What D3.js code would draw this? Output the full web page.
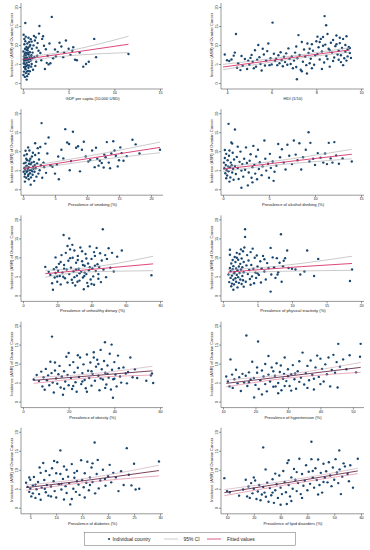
<!DOCTYPE html>
<html>
<head>
<meta charset="utf-8">
<script src="https://cdn.jsdelivr.net/npm/d3@7"></script>
<style>
body { margin: 0; background: #fff; }
svg text { font-family: "Liberation Sans", Arial, sans-serif; fill: #222; }
</style>
</head>
<body>
<div id="chart"></div>
<script>
//---------------- data -----------------------------------------------
var yTitle = "Incidence (ASR) of Ovarian Cancer";
var yTicks = [0, 5, 10, 15, 20];

var xTitles = ["GDP per capita (10,000 USD)", "HDI (1/10)", "Prevalence of smoking (%)",
	"Prevalence of alcohol drinking (%)", "Prevalence of unhealthy dietary (%)",
	"Prevalence of physical inactivity (%)", "Prevalence of obesity (%)",
	"Prevalence of hypertension (%)", "Prevalence of diabetes (%)", "Prevalence of lipid disorders (%)"];

var xTickSets = [[0, 5, 10, 15], [4, 6, 8, 10], [0, 5, 10, 15, 20], [0, 5, 10, 15], [0, 20, 40, 60, 80],
	[0, 5, 10, 15, 20], [0, 20, 40, 60], [10, 20, 30, 40, 50], [5, 10, 15, 20, 25, 30], [10, 20, 30, 40, 50, 60]];

var xDomains = [[0, 15], [3.82, 10], [0, 21.4], [0, 15], [0, 80], [0, 20], [0, 60], [10, 52.5], [3.6, 30], [8.5, 60]];

var gdpPts = [[0.05,2.1],[0.1,3.0],[0.12,4.2],[0.08,5.1],[0.15,5.8],[0.2,6.4],[0.1,7.0],[0.18,7.6],[0.05,8.3],[0.22,9.0],[0.3,2.6],[0.28,3.6],[0.35,4.4],[0.25,4.9],[0.4,5.3],[0.33,6.0],[0.45,6.6],[0.3,7.2],[0.4,7.9],[0.5,8.6],[0.38,9.5],[0.15,10.2],[0.25,11.0],[0.07,12.7],[0.25,15.8],[0.55,3.2],[0.6,4.0],[0.5,4.7],[0.65,5.5],[0.58,6.2],[0.7,6.9],[0.62,7.5],[0.75,8.1],[0.55,9.2],[0.8,10.0],[0.68,10.8],[0.85,11.5],[0.9,4.3],[0.95,5.0],[0.85,5.9],[1.0,6.5],[0.92,7.3],[1.05,8.0],[0.98,9.0],[0.4,0.9],[0.2,1.6],[0.45,1.8],[0.6,2.4],[0.75,3.1],[0.12,5.5],[0.18,6.9],[0.27,8.0],[0.35,8.8],[0.48,10.4],[0.6,11.9],[0.3,12.2],[0.15,11.6],[0.42,3.0],[0.52,5.9],[0.66,4.6],[0.78,6.3],[0.88,7.0],[0.2,4.0],[0.08,6.2],[0.37,6.7],[0.47,7.6],[0.57,8.0],[0.72,9.6],[0.95,10.9],[1.1,3.5],
	[1.2,12.4],[1.4,12.0],[1.3,11.2],[1.6,10.5],[1.8,15.0],[1.5,9.3],[1.7,8.5],[1.9,7.9],[1.25,6.8],[1.45,5.6],[1.35,4.5],[2.1,11.6],[2.2,12.3],[2.3,9.8],[2.5,8.9],[2.0,6.0],[2.4,3.7],[2.7,7.2],[2.9,10.4],[3.15,17.4],[2.6,5.3],[1.15,9.9],[1.55,7.2],[2.8,4.9],[1.75,13.0],
	[3.3,6.5],[3.5,8.8],[3.8,8.2],[4.0,10.6],[4.2,9.6],[4.5,8.0],[4.7,11.2],[5.0,9.0],[5.2,7.4],[5.4,8.5],[5.7,6.1],[5.9,6.0],[6.2,8.0],[6.6,4.3],[6.9,5.0],[7.2,5.6],[7.8,11.6],[8.0,6.8],[11.55,7.65],[3.6,7.0],[4.4,6.8],[5.5,9.4],[3.0,5.2]];

var hdiPts = [[3.9,7.5],[4.0,6.0],[4.1,5.8],[4.2,6.2],[4.3,7.2],[4.35,8.0],[4.4,12.9],[4.45,4.0],[4.6,3.4],[4.5,5.2],[4.7,4.5],[4.8,6.3],[4.9,3.7],[4.65,7.1],[4.95,5.9],
	[5.0,4.8],[5.1,7.4],[5.15,5.6],[5.2,3.9],[5.3,4.3],[5.35,6.1],[5.4,10.0],[5.45,6.8],[5.5,5.0],[5.6,9.0],[5.65,7.5],[5.7,4.6],[5.75,5.9],[5.8,8.4],[5.85,10.4],[5.9,4.7],[5.95,6.5],[5.25,8.6],[5.55,3.3],[5.05,6.6],
	[6.0,4.9],[6.04,15.9],[6.1,7.7],[6.15,5.8],[6.2,6.4],[6.25,4.7],[6.3,7.3],[6.35,5.2],[6.4,8.1],[6.45,6.0],[6.5,4.4],[6.55,6.9],[6.6,5.5],[6.65,7.8],[6.7,4.8],[6.75,9.1],[6.8,6.3],[6.85,5.0],[6.9,7.0],[6.95,3.9],
	[7.0,5.9],[7.05,8.0],[7.1,4.2],[7.13,1.0],[7.15,6.5],[7.2,12.6],[7.25,7.4],[7.3,3.5],[7.35,10.8],[7.4,5.6],[7.45,8.8],[7.5,6.9],[7.55,4.7],[7.6,10.4],[7.65,7.9],[7.7,5.2],[7.75,6.4],[7.8,10.2],[7.85,8.5],[7.9,4.8],[7.95,7.3],[7.35,3.1],[7.58,2.5],[7.8,3.9],[7.1,9.6],[7.7,9.0],
	[8.0,11.0],[8.05,7.6],[8.1,9.4],[8.15,6.2],[8.2,11.6],[8.25,8.3],[8.3,12.1],[8.35,5.4],[8.37,17.6],[8.4,10.1],[8.44,15.2],[8.45,7.1],[8.5,12.9],[8.55,9.0],[8.6,4.3],[8.65,10.6],[8.7,8.0],[8.75,11.3],[8.8,6.7],[8.85,9.7],[8.9,12.5],[8.95,7.5],[8.15,10.8],[8.25,3.7],[8.5,6.3],[8.6,8.6],[8.75,5.8],[8.05,12.2],[8.9,10.2],[8.3,9.8],
	[9.0,8.5],[9.05,10.5],[9.1,7.3],[9.15,9.2],[9.2,11.6],[9.25,6.5],[9.3,8.2],[9.35,12.3],[9.4,7.0],[9.45,9.5],[9.5,7.9],[9.55,6.6],[9.1,5.5],[9.2,4.7],[9.3,10.0],[9.4,8.8],[9.0,6.1],[9.35,5.9],[9.5,9.2],[9.05,11.9]];

var smokePts = [[0.2,5.5],[0.3,4.0],[0.4,7.0],[0.5,3.0],[0.3,2.0],[0.6,6.2],[0.7,4.8],[0.5,8.0],[0.8,3.5],[0.9,5.8],[1.0,7.5],[0.6,9.2],[1.1,4.2],[1.2,6.6],[0.9,2.6],[1.3,5.1],[1.4,8.6],[1.0,10.2],[1.5,3.8],[1.6,6.0],[1.7,7.2],[1.2,1.2],[1.8,4.6],[1.9,9.0],[2.0,5.5],[2.1,3.3],[2.2,6.8],[2.3,10.8],[2.4,4.1],[2.5,7.8],[2.6,5.0],[2.7,11.1],[2.9,17.4],[2.8,6.3],[3.0,3.0],[0.15,6.8],[0.25,3.3],[0.35,5.0],[0.45,6.0],[0.55,4.5],[0.65,7.6],[0.75,5.3],[0.85,3.9],[0.95,6.7],[1.05,5.0],[1.15,8.0],[1.25,3.1],[1.35,7.0],[1.45,4.7],[1.55,9.6],[1.65,5.4],[1.75,2.2],[1.85,6.4],[0.1,4.6],[0.2,8.9],[0.4,10.1],[0.8,11.0],[1.9,12.1],[2.45,9.5],
	[3.2,7.0],[3.5,12.0],[3.8,9.4],[4.0,13.6],[3.3,5.8],[3.6,4.3],[4.3,6.3],[4.6,5.9],[5.0,4.1],[5.3,6.5],[5.6,2.6],[5.5,8.6],[6.0,10.4],[6.3,8.1],[6.6,15.8],[6.9,12.3],[7.2,11.9],[7.5,7.4],[7.8,15.1],[7.3,5.0],[8.3,10.9],[8.6,11.3],[8.9,4.7],[9.2,10.4],[9.8,8.6],[10.2,7.3],[10.5,7.7],[10.8,10.2],[11.2,5.8],[11.6,8.0],[11.8,6.2],[12.0,7.5],[12.3,6.9],[12.6,5.7],[12.9,8.4],[13.1,12.4],[13.4,7.0],[13.6,5.5],[13.8,9.4],[14.1,12.6],[14.3,10.2],[14.5,8.8],[14.8,6.0],[15.0,7.6],[15.2,11.0],[15.4,9.5],[15.7,7.5],[16.2,8.7],[17.1,13.0],[17.6,11.8],[18.2,9.4],[21.4,10.4],[11.4,10.9],[12.7,9.1],[9.5,12.5]];

var alcoholPts = [[0.1,7.0],[0.15,5.5],[0.2,8.2],[0.25,4.2],[0.3,6.4],[0.35,9.3],[0.4,5.0],[0.45,3.6],[0.5,7.6],[0.55,6.0],[0.6,17.2],[0.6,4.7],[0.65,8.8],[0.7,10.2],[0.75,5.8],[0.8,3.1],[0.85,7.0],[0.9,12.3],[0.95,6.3],[1.0,4.4],[1.05,9.6],[1.1,5.3],[1.15,2.5],[1.2,7.8],[1.3,15.7],[1.3,6.1],[1.4,4.0],[1.5,8.5],[1.6,5.6],[1.7,2.7],[1.8,7.2],[1.9,9.9],[2.0,4.9],[2.1,6.6],[2.2,3.3],[2.3,8.0],[2.4,5.1],[2.5,11.0],[2.6,6.9],[2.7,1.0],[2.8,4.4],[2.9,7.5],[3.0,9.2],[3.1,3.0],[3.2,5.8],[3.3,11.4],[3.4,6.4],[3.5,4.1],[3.6,8.6],[3.7,2.6],[3.8,10.4],[3.9,5.3],[4.0,7.1],[4.2,3.7],[4.3,6.0],[4.5,12.8],[4.6,8.0],[4.7,4.9],[4.9,6.7],[5.0,3.0],[5.1,9.3],[5.2,5.6],[5.4,7.3],[5.5,2.2],[5.6,4.6],[5.8,6.2],[6.0,11.9],[6.2,8.4],[6.4,10.5],[6.6,7.0],[6.8,5.2],[7.0,11.7],[7.2,8.8],[7.5,6.6],[7.7,12.8],[7.9,9.1],[8.1,7.6],[8.3,12.1],[8.5,5.2],[8.7,8.4],[9.0,10.4],[9.3,15.0],[9.4,7.3],[9.5,12.2],[9.8,8.0],[10.0,6.4],[10.3,9.5],[10.6,8.3],[10.9,7.0],[11.1,9.4],[11.3,6.6],[11.5,12.2],[11.7,8.1],[11.9,7.0],[12.1,12.4],[12.3,8.9],[12.6,6.7],[13.0,8.1],[14.0,7.3],[0.35,2.9],[0.7,2.0],[1.6,11.2],[0.2,10.3],[2.0,0.4],[1.0,12.0],[3.2,1.8]];

var dietPts = [[13,7.5],[15,6.2],[16,5.4],[17,3.2],[17.5,1.5],[18,6.9],[18.5,4.7],[19,5.9],[19.5,7.4],[20,3.6],[20.5,6.5],[21,8.3],[21.5,5.1],[22,2.9],[22.5,10.6],[23,6.0],[23.7,15.9],[24,8.0],[24.5,4.5],[25,11.2],[25.5,6.8],[26,3.4],[26.5,9.1],[27,15.0],[27,5.6],[27.5,12.1],[28,7.3],[28.5,4.1],[29,9.9],[29.5,6.3],[30,11.8],[30.5,2.6],[31,8.6],[31.5,5.2],[32,10.4],[32.5,7.0],[33,3.9],[33.5,12.6],[34,6.2],[34.5,9.0],[35,4.7],[35.5,1.6],[36,7.8],[36.5,10.9],[37,5.6],[37.5,3.3],[38,8.4],[38.5,6.6],[39,12.9],[39.5,4.2],[40,9.6],[40.5,7.1],[41,5.0],[41.5,2.8],[42,10.4],[42.5,6.4],[43,12.5],[43.5,8.2],[44,4.4],[44.5,7.5],[45,11.1],[45.5,3.5],[46.6,17.4],[47,6.8],[48,10.6],[49,9.6],[50,12.4],[51,7.3],[52,11.2],[53,6.3],[55,10.2],[57.7,11.8],[75,5.3],[26,13.0],[28.8,13.3],[32,9.3],[35,8.0],[33,5.8],[30,4.8],[38,2.4],[40,3.0],[24,7.0],[27.5,9.8],[31,6.8],[36,6.0],[42,7.8],[37,9.7],[41.5,11.4],[34.5,11.6],[29,3.3],[22,8.8],[19,10.0],[44,5.6],[46,9.2],[20,5.0],[23.5,4.9],[39,7.4],[35.8,5.1],[31.8,3.6],[48.5,4.8]];

var inactPts = [[0.8,5.5],[0.9,3.5],[1.0,7.2],[1.0,10.7],[1.1,4.6],[1.1,6.4],[1.2,2.4],[1.2,8.4],[1.3,5.2],[1.3,3.1],[1.4,6.9],[1.4,9.3],[1.5,4.1],[1.5,7.7],[1.6,5.8],[1.6,2.9],[1.7,10.1],[1.7,6.2],[1.8,4.5],[1.8,8.8],[1.9,3.6],[1.9,7.1],[2.0,5.4],[2.0,11.2],[2.1,6.6],[2.1,2.1],[2.2,9.4],[2.2,4.8],[2.3,7.6],[2.3,3.3],[2.4,10.9],[2.4,5.9],[2.5,8.3],[2.5,4.2],[2.6,12.1],[2.6,6.8],[2.7,3.0],[2.7,9.7],[2.8,5.1],[2.8,7.4],[2.9,11.6],[2.9,4.0],[3.0,8.8],[3.0,6.1],[3.2,17.4],[3.2,15.4],[3.1,12.6],[3.3,3.6],[3.4,7.9],[3.5,10.6],[3.6,5.6],[3.7,9.2],[3.8,6.7],[3.9,4.3],[4.0,11.4],[4.1,8.0],[4.2,5.0],[4.3,12.3],[4.4,7.0],[4.5,3.2],[4.6,9.9],[4.7,6.0],[4.8,4.6],[4.9,10.5],[5.0,7.6],[5.2,5.4],[5.4,9.0],[5.5,3.4],[5.6,7.1],[5.8,10.4],[6.0,6.3],[6.2,4.2],[6.4,8.5],[6.6,7.2],[6.9,12.5],[6.9,1.0],[7.0,5.5],[7.2,10.0],[7.4,7.4],[7.6,4.6],[7.8,9.8],[8.0,6.1],[8.2,8.6],[8.4,16.1],[8.5,3.6],[8.7,7.7],[9.0,9.8],[9.3,11.8],[9.5,7.2],[10.0,7.0],[10.5,6.8],[11.2,5.5],[11.8,6.3],[12.2,11.8],[13.2,5.1],[13.8,9.6],[18.7,6.8],[18.4,3.8],[1.0,12.0],[1.5,1.5],[2.0,9.9],[3.0,2.3],[4.0,2.8],[5.0,5.8],[6.0,9.5],[7.9,5.5],[8.8,9.1]];

var obesityPts = [[4.7,5.8],[6,7.0],[7,5.4],[8,7.9],[8.5,4.0],[9,6.4],[9.5,3.1],[10,8.6],[10.5,5.6],[11,6.9],[11.5,4.3],[12,10.5],[12.7,17.1],[12.5,7.5],[13,5.0],[13.5,2.4],[14,8.2],[14.5,6.1],[15,4.7],[15.5,7.2],[16,9.4],[16.5,3.7],[17,6.6],[17.5,1.8],[18,8.0],[18.5,5.3],[19,11.8],[19.5,7.0],[20,4.3],[20.5,9.6],[21,6.2],[21.5,3.3],[22,10.4],[22.5,7.7],[23,5.1],[23.5,2.6],[24,8.9],[24.5,6.5],[25,11.6],[25.5,4.6],[26,7.5],[26.5,9.8],[27,5.7],[27.5,3.5],[28,12.4],[28.5,8.1],[29,6.2],[29.5,10.3],[30,4.2],[30.5,7.3],[31,13.0],[31.5,5.5],[32,9.2],[32.5,11.0],[33,6.8],[33.5,3.0],[34,13.6],[34.5,8.5],[35,5.8],[35.5,10.7],[35.9,15.6],[36,7.6],[36.5,4.5],[37,9.5],[37.5,6.3],[38,12.6],[38.5,3.2],[38.8,15.0],[39,8.4],[39.4,1.0],[39.5,5.9],[40,10.4],[40.5,7.1],[41,4.0],[41.6,12.1],[42,8.8],[42.5,6.6],[43,5.0],[44,9.0],[45,7.4],[45.5,4.8],[46,7.8],[47,11.6],[48,6.4],[49,8.5],[50,6.2],[54,5.5],[56,6.9],[57,4.9],[56.5,7.4],[20,12.8],[24,12.2],[28,2.6],[30,8.0],[33,9.9],[26,5.3],[22,4.1],[36,3.6],[18,3.4],[14,10.3],[31,11.6],[34,6.1],[37,7.3],[40,6.0]];

var hyperPts = [[11,6.6],[11.5,5.3],[12,4.0],[12.3,11.1],[12.8,7.1],[13,3.6],[13.5,5.9],[14,8.4],[14.5,4.8],[15,6.4],[15.5,2.8],[16,7.3],[16.5,5.0],[17,6.8],[17.2,17.4],[17.5,4.1],[18,7.7],[18.5,5.8],[19,10.5],[19.6,1.1],[19.5,6.2],[20,4.4],[20.5,7.6],[20.8,15.8],[21,3.3],[21.5,5.6],[22,8.2],[22.5,6.6],[23,4.6],[23.5,2.7],[24,7.1],[24.5,5.3],[25,9.0],[25.5,3.9],[26,6.8],[26.5,10.1],[27,4.9],[27.5,7.8],[28,3.0],[28.5,6.0],[29,11.6],[29.5,5.4],[30,8.5],[30.5,4.1],[31,7.2],[31.5,9.6],[32,5.9],[32.5,3.4],[33,8.0],[33.5,10.6],[34,6.3],[34.5,12.9],[35,4.5],[35.5,7.5],[36,9.4],[36.5,5.6],[37,10.8],[37.5,7.0],[38,3.2],[38.5,9.0],[39,12.1],[39.5,6.5],[40,11.3],[40.5,8.6],[41,5.3],[41.5,9.8],[42,7.2],[42.5,11.6],[43,4.0],[43.5,8.3],[44,12.3],[44.5,7.6],[45,10.4],[45.3,3.7],[45.5,15.2],[46,9.2],[47,11.1],[48,8.5],[49,12.2],[51,7.7],[52.2,11.8],[52.4,15.2],[24,12.0],[27,2.2],[29,4.1],[31,2.9],[25.5,8.0],[27.8,9.5],[22,1.9],[30,6.7],[33.5,5.2],[36,3.6],[20.5,9.0],[18,5.1],[26.2,4.0],[23,9.9],[28.8,7.3],[32.2,7.4],[40,4.6],[38,6.0]];

var diabPts = [[4.2,6.6],[4.5,5.5],[4.8,4.2],[5.0,7.4],[5.2,3.0],[5.5,5.9],[5.7,8.1],[6.0,2.6],[6.2,4.9],[6.5,6.8],[6.7,3.6],[7.0,9.2],[7.2,5.3],[7.5,11.8],[7.7,7.3],[8.0,4.1],[8.2,6.0],[8.5,3.2],[8.7,8.6],[9.0,5.6],[9.2,10.4],[9.5,7.0],[9.7,4.4],[10.0,2.7],[10.2,12.0],[10.5,6.2],[10.8,15.1],[10.8,8.9],[11.0,4.8],[11.3,7.6],[11.5,10.9],[11.8,5.7],[12.0,3.9],[12.3,8.2],[12.5,6.5],[12.7,0.9],[13.0,11.5],[13.3,5.0],[13.5,7.9],[13.8,4.2],[14.0,9.7],[14.3,6.1],[14.5,3.4],[14.8,12.5],[15.0,7.3],[15.3,5.4],[15.5,9.1],[15.8,6.6],[16.0,12.1],[16.3,4.6],[16.5,8.0],[16.8,10.6],[17.0,6.8],[17.4,17.2],[17.5,3.8],[17.8,8.9],[18.0,12.6],[18.5,7.2],[19.0,10.0],[19.5,5.8],[20.0,8.3],[20.3,11.3],[20.6,6.7],[21.0,9.2],[21.5,8.0],[22.0,4.4],[22.5,9.6],[23.0,6.0],[23.6,15.7],[24.0,8.7],[24.5,5.9],[25.0,11.6],[25.3,4.8],[26.0,5.0],[29.8,12.2],[5.0,5.0],[6.0,6.1],[7.0,2.1],[8.0,9.7],[9.0,3.0],[10.0,9.1],[11.0,6.3],[12.0,10.0],[13.0,2.3],[14.0,7.0],[6.8,10.6],[9.6,12.3],[15.5,2.7],[16.5,6.0],[18.2,5.1],[19.4,7.6],[4.8,8.0],[5.5,3.8],[7.8,5.0],[11.5,2.2],[13.5,9.2],[17.0,11.7]];

var lipidPts = [[9,7.8],[10,4.4],[11,4.1],[14.5,3.2],[16,4.8],[17,7.4],[17.5,3.0],[18,5.6],[18.5,2.6],[19,6.5],[19.5,3.8],[20,5.0],[20.5,7.2],[21,2.3],[21.5,4.3],[22,6.0],[22.5,2.0],[23,3.5],[23.5,15.9],[23.5,5.5],[24,4.0],[24.4,10.1],[24.5,2.9],[25,6.6],[25.5,1.6],[26,5.2],[26.5,3.3],[27,7.5],[27.5,1.3],[28,4.6],[28.5,6.2],[29,2.6],[29.5,8.5],[30,5.3],[30.5,3.6],[31,9.7],[31.5,6.8],[32,4.1],[32.3,1.0],[32.5,11.8],[33,6.0],[33.5,3.0],[34,8.0],[34.5,5.0],[35,10.2],[35.5,7.4],[36,4.4],[36.5,6.5],[37,12.9],[37.5,3.6],[38,8.9],[38.5,5.8],[39,7.1],[39.5,11.2],[40,4.6],[40.5,9.5],[41,6.3],[41.5,17.4],[41.5,12.8],[42,8.0],[42.5,5.3],[43,10.4],[43.5,7.3],[44,12.7],[44.5,6.0],[45,9.2],[45.5,4.0],[46,11.6],[46.5,7.9],[47,9.6],[47.5,6.7],[48,12.0],[48.5,8.5],[49,5.7],[49.5,10.6],[50,7.4],[50.5,12.8],[51,9.3],[51.5,6.5],[51.9,15.1],[52,10.1],[52.5,3.6],[53,8.2],[54,10.9],[55,8.9],[56,11.2],[57,5.3],[58.8,12.9],[55.5,7.0],[53.5,11.7],[38,2.6],[34,1.8],[30,0.8],[27,4.0],[44,3.5],[36,9.4],[42,9.7],[28,9.0],[33,12.5],[46,6.8],[20,8.0]];

// fitted values and 95% CI, read at start / middle / end of each line
var lineXs = [[0, 1.5, 11.55], [3.82, 7.3, 9.5], [0, 5, 21.4], [0, 4, 14], [13, 34, 76],
	[0.73, 4, 18.7], [4.7, 28, 56.7], [11, 30, 52.4], [4.2, 14, 29.8], [9, 35, 58.8]];
var fitYs = [[6.2, 6.7, 10.2], [4.2, 7.0, 8.7], [5.4, 6.7, 11.0], [5.3, 6.4, 9.2], [5.7, 6.6, 8.3],
	[6.1, 6.6, 8.4], [5.6, 6.7, 8.1], [4.8, 6.7, 9.0], [5.3, 6.9, 9.8], [4.0, 6.9, 9.7]];
var ciLoYs = [[5.5, 6.2, 8.0], [3.5, 6.6, 8.1], [4.9, 6.2, 9.6], [4.7, 5.9, 8.0], [4.8, 6.1, 6.5],
	[5.4, 6.1, 6.6], [4.8, 6.2, 7.0], [3.9, 6.2, 7.7], [4.6, 6.4, 8.4], [3.2, 6.4, 9.0]];
var ciHiYs = [[6.9, 7.2, 12.3], [4.9, 7.4, 9.3], [5.9, 7.2, 12.4], [5.9, 6.9, 10.5], [6.6, 7.1, 10.3],
	[6.8, 7.1, 10.3], [6.4, 7.2, 9.3], [5.7, 7.2, 10.3], [6.0, 7.4, 11.2], [4.8, 7.4, 10.4]];

var legendLabels = ["Individual country", "95% CI", "Fitted values"];

var pointSets = [gdpPts, hdiPts, smokePts, alcoholPts, dietPts, inactPts, obesityPts, hyperPts, diabPts, lipidPts];

//---------------- layout ----------------------
var w = 370;
var h = 550;
var navy = "#1a476f";
var ciGray = "#a8a8a8";
var fitRed = "#d8336a";

var svg = d3.select("#chart").append("svg")
	.attr("width", w)
	.attr("height", h);

var lineGen = d3.line()
	.x(function(d) { return d[0]; })
	.y(function(d) { return d[1]; })
	.curve(d3.curveMonotoneX);

pointSets.forEach(function(pts, i) {
	var col = i % 2;
	var row = Math.floor(i / 2);
	var axisX = col ? 221 : 21;
	var plotR = col ? 361 : 160;
	var y20 = 7 + row * 106.2;
	var y0 = y20 + 76;
	var axisY = y0 + 6;

	var xScale = d3.scaleLinear().domain(xDomains[i]).range([axisX + 2, plotR]);
	var yScale = d3.scaleLinear().domain([0, 20]).range([y0, y20]);

	var g = svg.append("g");

	// axis lines
	g.append("line")
		.attr("x1", axisX).attr("x2", axisX)
		.attr("y1", y20 - 4).attr("y2", axisY)
		.attr("stroke", "#333").attr("stroke-width", 0.5);
	g.append("line")
		.attr("x1", axisX).attr("x2", plotR + 3)
		.attr("y1", axisY).attr("y2", axisY)
		.attr("stroke", "#333").attr("stroke-width", 0.5);

	// x axis
	var xAxis = d3.axisBottom(xScale).tickValues(xTickSets[i])
		.tickFormat(function(d) { return d; })
		.tickSize(2).tickPadding(0.5);
	var xa = g.append("g")
		.attr("transform", "translate(0," + axisY + ")")
		.call(xAxis);
	xa.select(".domain").remove();
	xa.selectAll("line").attr("stroke", "#333").attr("stroke-width", 0.5);
	xa.selectAll("text").attr("font-size", 3.8).attr("fill", "#222");

	// y axis, vertical labels
	var yAxis = d3.axisLeft(yScale).tickValues(yTicks)
		.tickFormat(function(d) { return d; })
		.tickSize(2);
	var ya = g.append("g")
		.attr("transform", "translate(" + axisX + ",0)")
		.call(yAxis);
	ya.select(".domain").remove();
	ya.selectAll("line").attr("stroke", "#333").attr("stroke-width", 0.5);
	ya.selectAll("text")
		.attr("x", 0)
		.attr("y", -2.8)
		.attr("dy", 0)
		.attr("transform", "rotate(-90)")
		.attr("text-anchor", "middle")
		.attr("font-size", 3.8)
		.attr("fill", "#222");

	// titles
	g.append("text")
		.attr("x", (axisX + plotR) / 2 + 2)
		.attr("y", axisY + 11)
		.attr("text-anchor", "middle")
		.attr("font-size", 4.1)
		.text(xTitles[i]);
	g.append("text")
		.attr("transform", "translate(" + (axisX - 7.8) + "," + ((y0 + y20) / 2) + ") rotate(-90)")
		.attr("text-anchor", "middle")
		.attr("font-size", 4.1)
		.text(yTitle);

	// points
	g.selectAll("circle")
		.data(pts)
		.enter()
		.append("circle")
		.attr("cx", function(d) { return xScale(d[0]); })
		.attr("cy", function(d) { return yScale(d[1]); })
		.attr("r", 1.2)
		.attr("fill", navy);

	// CI and fitted lines
	var toPts = function(ys) {
		return lineXs[i].map(function(x, k) { return [xScale(x), yScale(ys[k])]; });
	};
	var lower = i >= 6;
	g.append("path").attr("d", lineGen(toPts(ciHiYs[i])))
		.attr("fill", "none").attr("stroke", lower ? "#c8a2b2" : ciGray).attr("stroke-width", 0.6);
	g.append("path").attr("d", lineGen(toPts(ciLoYs[i])))
		.attr("fill", "none").attr("stroke", lower ? "#d8708e" : ciGray).attr("stroke-width", 0.6);
	g.append("path").attr("d", lineGen(toPts(fitYs[i])))
		.attr("fill", "none").attr("stroke", lower ? "#6a2c4a" : fitRed).attr("stroke-width", 0.9);
});

//---------------- legend ----------------------
var lg = svg.append("g");
lg.append("rect")
	.attr("x", 84.5).attr("y", 532.5)
	.attr("width", 211).attr("height", 13)
	.attr("fill", "#fff").attr("stroke", "#666").attr("stroke-width", 0.5);
lg.append("circle").attr("cx", 109).attr("cy", 539).attr("r", 1.1).attr("fill", navy);
lg.append("text").attr("x", 112.5).attr("y", 540.7).attr("font-size", 4.9).text(legendLabels[0]);
lg.append("line").attr("x1", 164).attr("x2", 178).attr("y1", 539).attr("y2", 539)
	.attr("stroke", ciGray).attr("stroke-width", 0.6);
lg.append("text").attr("x", 183.5).attr("y", 540.7).attr("font-size", 4.9).text(legendLabels[1]);
lg.append("line").attr("x1", 207).attr("x2", 221).attr("y1", 539).attr("y2", 539)
	.attr("stroke", fitRed).attr("stroke-width", 0.8);
lg.append("text").attr("x", 227).attr("y", 540.7).attr("font-size", 4.9).text(legendLabels[2]);
</script>
</body>
</html>
